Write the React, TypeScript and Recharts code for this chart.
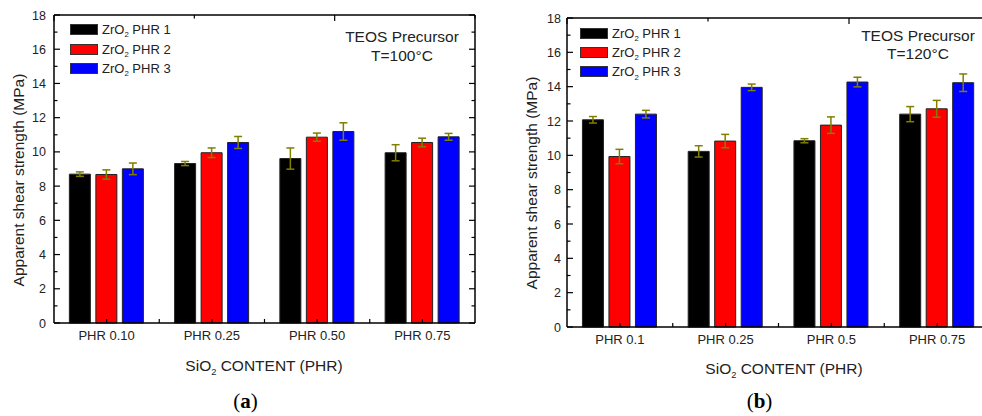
import React from 'react';
import { BarChart, Bar, XAxis, YAxis, ErrorBar } from 'recharts';

const catsA = ['PHR 0.10', 'PHR 0.25', 'PHR 0.50', 'PHR 0.75'];
const a1 = [8.7, 9.32, 9.61, 9.95];
const a1Err = [0.13, 0.12, 0.62, 0.47];
const a2 = [8.68, 9.95, 10.86, 10.55];
const a2Err = [0.27, 0.28, 0.24, 0.25];
const a3 = [9.01, 10.55, 11.19, 10.88];
const a3Err = [0.34, 0.35, 0.51, 0.2];

const catsB = ['PHR 0.1', 'PHR 0.25', 'PHR 0.5', 'PHR 0.75'];
const b1 = [12.07, 10.23, 10.85, 12.4];
const b1Err = [0.19, 0.33, 0.12, 0.44];
const b2 = [9.93, 10.83, 11.76, 12.71];
const b2Err = [0.42, 0.39, 0.48, 0.49];
const b3 = [12.4, 13.96, 14.27, 14.23];
const b3Err = [0.22, 0.19, 0.28, 0.51];

const seriesNames = ['PHR 1', 'PHR 2', 'PHR 3'];
const seriesColors = ['#000000', '#ff0000', '#0000ff'];
const yTicks = [0, 1, 2, 3, 4, 5, 6, 7, 8, 9, 10, 11, 12, 13, 14, 15, 16, 17, 18];
const topTicks = [0, 1, 2, 3, 4, 5, 6, 7, 8, 9, 10];

const FONT = '"Liberation Sans", Arial, Helvetica, sans-serif';
const ERR = '#7f7f00';
const AX = { stroke: '#000', strokeWidth: 1.5 };
const H = 416;
const X_H = 30;

const Sub = ({ children }: { children: React.ReactNode }) => (
  <span style={{ fontSize: '0.6em', position: 'relative', top: '0.4em' }}>{children}</span>
);

function Panel({ cats, s1, e1, s2, e2, s3, e3, left, width, margin, yWidth, labelGap }: any) {
  const data = cats.map((c: string, i: number) => ({
    cat: c, p1: s1[i], e1: e1[i], p2: s2[i], e2: e2[i], p3: s3[i], e3: e3[i],
  }));
  const vals = [['p1', 'e1'], ['p2', 'e2'], ['p3', 'e3']];
  const plotL = margin.left + yWidth;
  const plotR = width - margin.right - 1;
  const plotT = margin.top + 1;
  const plotB = H - margin.bottom - X_H;
  const band = (plotR - plotL) / cats.length;

  const YTick = (p: any) => {
    const v = p.payload.value;
    const y = p.payload.coordinate;
    const len = v % 2 === 0 ? 6 : 3.5;
    return (
      <g>
        <line x1={plotL} x2={plotL + len} y1={y} y2={y} stroke="#000" strokeWidth={1.2} />
        <line x1={plotR} x2={plotR - len} y1={y} y2={y} stroke="#000" strokeWidth={1.2} />
        {v % 2 === 0 && (
          <text x={plotL - labelGap} y={y} dy="0.36em" textAnchor="end" fontSize={12.5} fill="#222" fontFamily={FONT}>{v}</text>
        )}
      </g>
    );
  };

  const XTick = (p: any) => {
    const x = p.payload.coordinate;
    const last = p.index === cats.length - 1;
    return (
      <g>
        <line x1={x} x2={x} y1={plotB} y2={plotB - 4} stroke="#000" strokeWidth={1.2} />
        {!last && <line x1={x + band / 2} x2={x + band / 2} y1={plotB} y2={plotB - 4} stroke="#000" strokeWidth={1.2} />}
        <text x={x} y={plotB + 8} dy="0.71em" textAnchor="middle" fontSize={13} fill="#222" fontFamily={FONT}>{p.payload.value}</text>
      </g>
    );
  };

  const TopTick = (p: any) => {
    const x = p.payload.coordinate;
    const len = p.payload.value % 2 === 0 ? 6 : 3.5;
    return <line x1={x} x2={x} y1={plotT} y2={plotT + len} stroke="#000" strokeWidth={1.2} />;
  };

  return (
    <div style={{ position: 'absolute', left, top: 0, width, height: H }}>
      <BarChart width={width} height={H} data={data} margin={margin} barCategoryGap="14.6%" barGap={5.5}>
        <XAxis xAxisId="cat" dataKey="cat" height={X_H} interval={0} tickLine={false} axisLine={AX} tick={XTick} />
        <XAxis xAxisId="tp" orientation="top" type="number" domain={[0, 10]} allowDataOverflow ticks={topTicks}
          interval={0} height={1} tickLine={false} axisLine={AX} tick={TopTick} />
        <YAxis yAxisId="v" domain={[0, 18]} ticks={yTicks} interval={0} width={yWidth} tickLine={false}
          axisLine={AX} tick={YTick} />
        <YAxis yAxisId="r" orientation="right" domain={[0, 18]} allowDataOverflow width={1} tick={false}
          tickLine={false} axisLine={AX} />
        {vals.map(([k, e], i) => (
          <Bar key={k} xAxisId="cat" yAxisId="v" dataKey={k} fill={seriesColors[i]} stroke="#222"
            strokeWidth={1} isAnimationActive={false}>
            <ErrorBar dataKey={e} width={4} stroke={ERR} strokeWidth={1.5} direction="y" />
          </Bar>
        ))}
      </BarChart>
    </div>
  );
}

function Legend({ x, y }: { x: number; y: number }) {
  return (
    <div style={{ position: 'absolute', left: x, top: y, fontFamily: FONT, fontSize: 13, color: '#222' }}>
      {seriesNames.map((n, i) => (
        <div key={n} style={{ display: 'flex', alignItems: 'center', height: 19.4 }}>
          <div style={{ width: 26, height: 9, background: seriesColors[i], border: '1px solid #333', marginRight: 4 }} />
          <span>ZrO<Sub>2</Sub> {n}</span>
        </div>
      ))}
    </div>
  );
}

function Txt({ x, y, children, size = 15.5, rotate = false, style = {} }: any) {
  return (
    <div style={{
      position: 'absolute', left: x, top: y, whiteSpace: 'nowrap', fontFamily: FONT, fontSize: size,
      color: '#222', textAlign: 'center', lineHeight: 1.22,
      transform: `translate(-50%, -50%)${rotate ? ' rotate(-90deg)' : ''}`, ...style,
    }}>{children}</div>
  );
}

export default function App() {
  return (
    <div style={{ position: 'absolute', left: 0, top: 0, width: 982, height: H, overflow: 'hidden', background: '#fff' }}>
      <Panel cats={catsA} s1={a1} e1={a1Err} s2={a2} e2={a2Err} s3={a3} e3={a3Err}
        left={0} width={491} margin={{ top: 14, right: 15, bottom: 63, left: 0 }} yWidth={54} labelGap={8} />
      <Panel cats={catsB} s1={b1} e1={b1Err} s2={b2} e2={b2Err} s3={b3} e3={b3Err}
        left={491} width={510} margin={{ top: 17, right: 10, bottom: 59, left: 0 }} yWidth={76} labelGap={6} />

      <Legend x={70} y={20} />
      <Legend x={580} y={23.5} />

      <Txt x={402} y={47}>TEOS Precursor<br />T=100°C</Txt>
      <Txt x={918} y={45.5}>TEOS Precursor<br />T=120°C</Txt>

      <Txt x={19} y={180} rotate>Apparent shear strength (MPa)</Txt>
      <Txt x={532} y={183} rotate>Apparent shear strength (MPa)</Txt>

      <Txt x={264} y={366}>SiO<Sub>2</Sub> CONTENT (PHR)</Txt>
      <Txt x={784} y={369}>SiO<Sub>2</Sub> CONTENT (PHR)</Txt>

      <Txt x={245.5} y={402} size={21} style={{ fontFamily: '"Liberation Serif", "DejaVu Serif", serif', color: '#000' }}>
        (<b>a</b>)
      </Txt>
      <Txt x={759.5} y={402} size={21} style={{ fontFamily: '"Liberation Serif", "DejaVu Serif", serif', color: '#000' }}>
        (<b>b</b>)
      </Txt>
    </div>
  );
}
